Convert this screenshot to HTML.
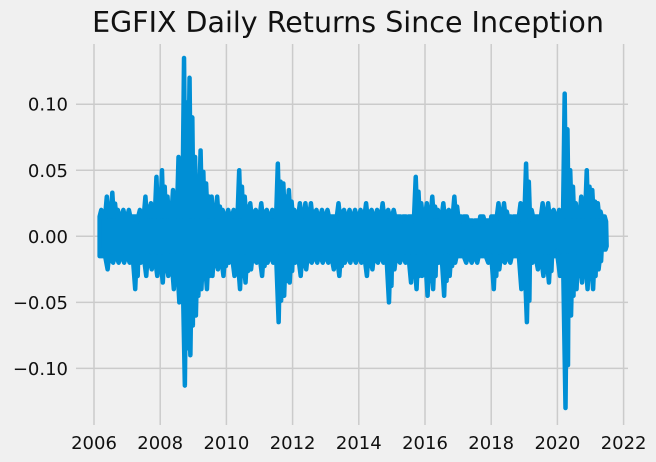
<!DOCTYPE html>
<html><head><meta charset="utf-8"><style>
html,body{margin:0;padding:0;background:#f0f0f0;}
svg{display:block;font-family:"DejaVu Sans","Liberation Sans",sans-serif;}
</style></head><body>
<svg id="chart" width="656" height="462" viewBox="0 0 656 462" xmlns="http://www.w3.org/2000/svg">
<rect width="656" height="462" fill="#f0f0f0"/>
<text x="348" y="32" text-anchor="middle" font-size="28.5" fill="#111">EGFIX Daily Returns Since Inception</text>
<g id="grid"></g><g id="ticks"></g><g id="series"></g>
</svg>
<script>
const startYear = 2006.17;
const periodsPerYear = 6;
const highs = [
 .02,.03,.033,.02,.02,
 .02,.015,.02,.03,.025,.045,
 .05,.03,.035,.06,.135,.12,
 .06,.065,.04,.03,.03,.02,
 .02,.02,.05,.03,.025,.02,
 .025,.02,.02,.055,.04,.035,
 .02,.025,.025,.025,.02,.02,
 .02,.015,.025,.02,.02,.02,
 .02,.025,.02,.02,.025,.02,
 .02,.015,.015,.015,.045,.025,
 .025,.03,.02,.025,.02,.03,
 .015,.015,.012,.012,.015,.012,
 .015,.025,.025,.015,.015,.025,
 .055,.02,.015,.025,.025,.02,
 .02,.108,.05,.025,.03,.05,
 .035,.025,.015];
const lows = [
 -.015,-.025,-.02,-.02,-.02,
 -.02,-.04,-.02,-.03,-.025,-.03,
 -.035,-.03,-.04,-.05,-.113,-.09,
 -.06,-.04,-.04,-.03,-.025,-.03,
 -.02,-.03,-.04,-.035,-.025,-.02,
 -.03,-.02,-.02,-.065,-.045,-.035,
 -.02,-.03,-.025,-.02,-.02,-.02,
 -.02,-.025,-.03,-.02,-.02,-.02,
 -.02,-.03,-.025,-.02,-.02,-.05,
 -.025,-.02,-.02,-.035,-.04,-.03,
 -.045,-.04,-.02,-.045,-.03,-.02,
 -.015,-.02,-.02,-.02,-.015,-.02,
 -.04,-.025,-.02,-.02,-.015,-.04,
 -.065,-.02,-.025,-.03,-.035,-.015,
 -.03,-.13,-.06,-.04,-.035,-.04,
 -.04,-.025,-.01];
const xTicks = [2006,2008,2010,2012,2014,2016,2018,2020,2022];
const yTicks = [-0.10,-0.05,0.00,0.05,0.10];
const yTickLabels = ["\u22120.10","\u22120.05","0.00","0.05","0.10"];

const NS = "http://www.w3.org/2000/svg";
const X = y => 94 + (y - 2006) * 33.1;
const Y = v => 236.3 - v * 1321;
const L = 76, R = 628, T = 44, B = 425;
const CORE = 0.015;
const gridG = document.getElementById('grid'), ticksG = document.getElementById('ticks'), seriesG = document.getElementById('series');
function mk(tag, attrs, parent){const e=document.createElementNS(NS,tag);for(const k in attrs)e.setAttribute(k,attrs[k]);parent.appendChild(e);return e;}
xTicks.forEach(t=>{
  const l = mk('line',{x1:X(t),x2:X(t),y1:T,y2:B,stroke:'#cbcbcb','stroke-width':1.5},gridG);
  
  
  const tx = mk('text',{x:X(t),y:449,'text-anchor':'middle','font-size':18,fill:'#111'},ticksG);
  tx.textContent = t;
  
  
});
yTicks.forEach((v,i)=>{
  const l = mk('line',{x1:L,x2:R,y1:Y(v),y2:Y(v),stroke:'#cbcbcb','stroke-width':1.5},gridG);
  
  
  const tx = mk('text',{x:68,y:Y(v)+6.5,'text-anchor':'end','font-size':18,fill:'#111'},ticksG);
  tx.textContent = yTickLabels[i];
  
  
});
const step = 1/periodsPerYear;
const upper = [], lower = [];
highs.forEach((h,i)=>{
  const t0 = startYear + i*step;
  const c = Math.min(h, CORE), lc = Math.max(lows[i], -CORE);
  upper.push([X(t0),Y(c)],[X(t0+step*0.3),Y(h)],[X(t0+step*0.55),Y(c)],[X(t0+step*0.8),Y(h*0.75)]);
  lower.push([X(t0),Y(lc)],[X(t0+step*0.45),Y(lows[i])],[X(t0+step*0.7),Y(lc)],[X(t0+step*0.9),Y(lows[i]*0.75)]);
});
const pts = upper.concat(lower.reverse());
const d = 'M' + pts.map(p=>p[0].toFixed(2)+','+p[1].toFixed(2)).join(' L') + ' Z';
const p = mk('path',{d:d,fill:'#008fd5',stroke:'#008fd5','stroke-width':4.5,'stroke-linejoin':'round','stroke-linecap':'round'},seriesG);


</script>
</body></html>
